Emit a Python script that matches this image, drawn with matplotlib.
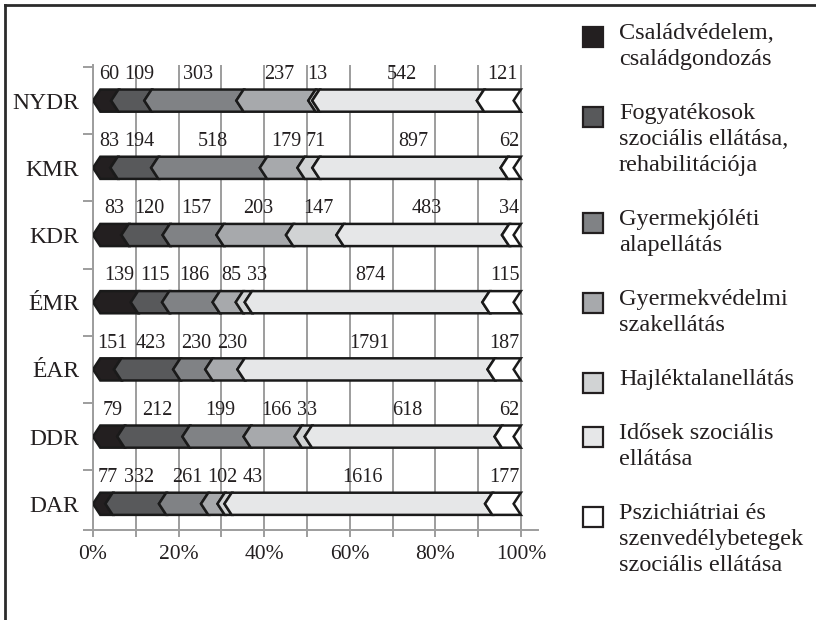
import numpy as np
import matplotlib
matplotlib.use("Agg")
import matplotlib.pyplot as plt
from matplotlib.patches import Polygon, Rectangle
from matplotlib.lines import Line2D

plt.rcParams['font.family'] = ['Liberation Serif', 'DejaVu Serif']

regions = ["NYDR", "KMR", "KDR", "ÉMR", "ÉAR", "DDR", "DAR"]
csaladvedelem = [60, 83, 83, 139, 151, 79, 77]
fogyatekosok = [109, 194, 120, 115, 423, 212, 332]
gyermekjoleti = [303, 518, 157, 186, 230, 199, 261]
gyermekvedelmi = [237, 179, 203, 85, 230, 166, 102]
hajlektalan = [13, 71, 147, 33, 0, 33, 43]
idosek = [542, 897, 483, 874, 1791, 618, 1616]
pszichiatriai = [121, 62, 34, 115, 187, 62, 177]

legend_labels = [
    "Családvédelem,\ncsaládgondozás",
    "Fogyatékosok\nszociális ellátása,\nrehabilitációja",
    "Gyermekjóléti\nalapellátás",
    "Gyermekvédelmi\nszakellátás",
    "Hajléktalanellátás",
    "Idősek szociális\nellátása",
    "Pszichiátriai és\nszenvedélybetegek\nszociális ellátása",
]
colors = ['#231f20', '#58595b', '#808285', '#a7a9ac', '#d1d3d4', '#e6e7e8', '#ffffff']
grid_col = '#9d9d9d'

data = np.array([csaladvedelem, fogyatekosok, gyermekjoleti, gyermekvedelmi,
                 hajlektalan, idosek, pszichiatriai], dtype=float)

W, H = 816, 620
fig = plt.figure(figsize=(W / 100, H / 100), dpi=100)
ax = fig.add_axes([93 / W, 90 / H, 445 / W, 465 / H])

D = 1.7      # chevron depth in % units
bh = 0.33    # bar height
lab_fs = 14.5
px_per_unit = 445 / 104

ypos = np.arange(len(regions))[::-1]

for i, region in enumerate(regions):
    y = ypos[i]
    vals = data[:, i]
    cum = np.concatenate([[0], np.cumsum(vals)]) / vals.sum() * 100
    b = D + (100 - D) * cum / 100
    for s in range(len(vals)):
        if vals[s] == 0:
            continue
        l, r = b[s], b[s + 1]
        pts = [(l, y + bh / 2), (l - D, y), (l, y - bh / 2),
               (r, y - bh / 2), (r - D, y), (r, y + bh / 2)]
        ax.add_patch(Polygon(pts, closed=True, fc=colors[s], ec='#1a1a1a',
                             lw=1.8, joinstyle='miter', zorder=3))

    # value labels, roughly centred on segments and pushed apart if they collide
    idx = [s for s in range(len(vals)) if vals[s] > 0]
    txt = [str(int(vals[s])) for s in idx]
    wid = [len(t) * 0.5 * lab_fs * 1.389 / px_per_unit for t in txt]
    xs = []
    for k, s in enumerate(idx):
        c = (b[s] + b[s + 1]) / 2
        if k == 0:
            c = max(c, wid[k] / 2 + 1.0)
        else:
            c = max(c, xs[-1] + (wid[k - 1] + wid[k]) / 2 + 1.2)
        xs.append(c)
    xs[-1] = min(xs[-1], 100 - wid[-1] / 2 - 0.3)
    for k in range(len(xs) - 2, -1, -1):
        xs[k] = min(xs[k], xs[k + 1] - (wid[k] + wid[k + 1]) / 2 - 1.2)
    for x, t in zip(xs, txt):
        ax.text(x, y + 0.39, t, ha='center', va='center', fontsize=lab_fs,
                color='#231f20', zorder=4)

ax.set_xlim(0, 104)
ax.set_ylim(-0.39, 6.53)

xt = list(range(0, 101, 10))
ax.set_xticks(xt)
ax.set_xticklabels([f"{v}%" if v % 20 == 0 else "" for v in xt], fontsize=15.5,
                   color='#231f20')
ax.tick_params(axis='x', length=5, width=1.4, color=grid_col, pad=6)
ax.grid(axis='x', color=grid_col, lw=1.4)
ax.set_axisbelow(True)

ax.set_yticks(ypos)
ax.set_yticklabels(regions, fontsize=17, color='#231f20')
ax.tick_params(axis='y', which='major', length=0, pad=10)
ax.set_yticks([-0.39] + [k + 0.5 for k in range(7)], minor=True)
ax.tick_params(axis='y', which='minor', length=7.2, width=1.4, color=grid_col)

for side in ['top', 'right']:
    ax.spines[side].set_visible(False)
for side in ['left', 'bottom']:
    ax.spines[side].set_color(grid_col)
    ax.spines[side].set_linewidth(1.4)

# legend drawn by hand on the right
top = 27
for lab, col in zip(legend_labels, colors):
    ax_y = 1 - (top + 20) / H
    fig.add_artist(Rectangle((583 / W, ax_y), 20 / W, 20 / H, transform=fig.transFigure,
                             fc=col, ec='#231f20', lw=1.6))
    fig.text(619 / W, 1 - (top - 4) / H, lab, ha='left', va='top', fontsize=17.5,
             linespacing=1.3, color='#231f20')
    top += 26 * (lab.count("\n") + 1) + 28

# frame lines (top and left)
fig.add_artist(Line2D([5 / W, 5 / W], [0, 1 - 5 / H], transform=fig.transFigure,
                      color='#2b2b2b', lw=2))
fig.add_artist(Line2D([5 / W, 1], [1 - 5 / H, 1 - 5 / H], transform=fig.transFigure,
                      color='#2b2b2b', lw=2))

fig.savefig("out.png", dpi=100)
